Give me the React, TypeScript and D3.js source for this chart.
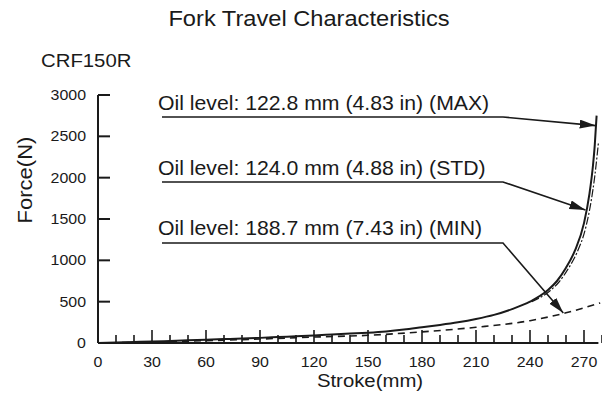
import React from "react";
import * as d3 from "d3";

const title = "Fork Travel Characteristics";
const model = "CRF150R";
const xTicks = [0, 30, 60, 90, 120, 150, 180, 210, 240, 270];
const xMinor = [10, 20, 40, 50, 70, 80, 100, 110, 130, 140, 160, 170, 190, 200, 220, 230, 250, 260, 280];
const yTicks = [0, 500, 1000, 1500, 2000, 2500, 3000];

const maxStroke = [0, 10, 20, 30, 40, 50, 60, 70, 80, 90, 100, 110, 120, 130, 140, 150, 160, 170, 180, 190, 200, 210, 220, 230, 240, 250, 255, 260, 265, 270, 273, 275, 276, 277];
const maxForce = [0, 6, 12, 18, 25, 32, 40, 47, 54, 62, 72, 82, 92, 103, 114, 125, 140, 162, 190, 218, 250, 290, 340, 410, 500, 640, 750, 910, 1120, 1450, 1800, 2150, 2400, 2750];

const stdStroke = [240, 250, 255, 260, 265, 270, 273, 275, 277];
const stdForce = [500, 630, 735, 890, 1090, 1400, 1720, 2020, 2420];

const minStroke = [0, 30, 60, 90, 120, 150, 180, 210, 240, 260, 279];
const minForce = [0, 12, 28, 48, 72, 93, 135, 190, 270, 365, 485];

const labels = [
  "Oil level: 122.8 mm (4.83 in) (MAX)",
  "Oil level: 124.0 mm (4.88 in) (STD)",
  "Oil level: 188.7 mm (7.43 in) (MIN)",
];
const labelTarget = [
  [276.5, 2630],
  [270.8, 1610],
  [258.5, 363],
];

const FONT = "Liberation Sans, Arial, Helvetica, sans-serif";
const SX = 1.1;

function T({ x, y, size, anchor = "start", rotate = 0, children }: any) {
  return (
    <text
      transform={`translate(${x},${y}) rotate(${rotate}) scale(${SX},1)`}
      fontSize={size}
      fontFamily={FONT}
      textAnchor={anchor}
      fill="#1a1a1a"
    >
      {children}
    </text>
  );
}

export default function App() {
  const x = d3.scaleLinear().domain([0, 278]).range([98, 598.4]);
  const y = d3.scaleLinear().domain([0, 3000]).range([343, 95]);
  const line = d3
    .line<[number, number]>()
    .x((d) => x(d[0]))
    .y((d) => y(d[1]))
    .curve(d3.curveMonotoneX);

  const maxPts = maxStroke.map((s, i) => [s, maxForce[i]] as [number, number]);
  const stdPts = stdStroke.map((s, i) => [s, stdForce[i]] as [number, number]);
  const minPts = minStroke.map((s, i) => [s, minForce[i]] as [number, number]);

  const labelY = [110, 175, 235];
  const underY = [117, 182, 243];

  return (
    <svg width={602} height={393} style={{ position: "absolute", left: 0, top: 0, background: "#fff" }}>
      <defs>
        <marker id="ah" markerUnits="userSpaceOnUse" markerWidth={17} markerHeight={10} refX={16} refY={4.5} orient="auto">
          <path d="M0,0 L16,4.5 L0,9 Z" fill="#1a1a1a" />
        </marker>
      </defs>
      <T x={309} y={26} size={21.5} anchor="middle">{title}</T>
      <T x={41} y={67} size={18.5}>{model}</T>

      {/* axes */}
      <line x1={x(0)} x2={x(278)} y1={y(0)} y2={y(0)} stroke="#1a1a1a" strokeWidth={2} />
      <line x1={x(0)} x2={x(0)} y1={y(0)} y2={y(3000)} stroke="#1a1a1a" strokeWidth={2} />
      {yTicks.map((t) => (
        <g key={"y" + t}>
          {t > 0 && <line x1={x(0)} x2={x(0) + 12} y1={y(t)} y2={y(t)} stroke="#1a1a1a" strokeWidth={2} />}
          <T x={86} y={y(t) + 5} size={14.5} anchor="end">{t}</T>
        </g>
      ))}
      {xTicks.map((t) => (
        <g key={"x" + t}>
          {t > 0 && <line x1={x(t)} x2={x(t)} y1={y(0)} y2={y(0) - 13} stroke="#1a1a1a" strokeWidth={1.6} />}
          <T x={x(t)} y={367} size={14.5} anchor="middle">{t}</T>
        </g>
      ))}
      {xMinor.map((t) => (
        <line key={"m" + t} x1={x(t)} x2={x(t)} y1={y(0)} y2={y(0) - 8} stroke="#1a1a1a" strokeWidth={1.6} />
      ))}
      <T x={370} y={387} size={18.5} anchor="middle">Stroke(mm)</T>
      <T x={32} y={180} size={20} anchor="middle" rotate={-90}>Force(N)</T>

      {/* curves */}
      <path d={line(minPts) || ""} fill="none" stroke="#1a1a1a" strokeWidth={1.6} strokeDasharray="7,5" />
      <path d={line(maxPts) || ""} fill="none" stroke="#1a1a1a" strokeWidth={2} />
      <path
        d={line(stdPts) || ""}
        fill="none"
        stroke="#1a1a1a"
        strokeWidth={1.2}
        strokeDasharray="8,2,2,2"
        transform="translate(1.8,0)"
      />

      {/* labels with leaders */}
      {labels.map((l, i) => (
        <g key={l}>
          <T x={158} y={labelY[i]} size={19.3}>{l}</T>
          <polyline
            points={`162,${underY[i]} 503,${underY[i]} ${x(labelTarget[i][0])},${y(labelTarget[i][1])}`}
            fill="none"
            stroke="#1a1a1a"
            strokeWidth={1.6}
            markerEnd="url(#ah)"
          />
        </g>
      ))}
    </svg>
  );
}
